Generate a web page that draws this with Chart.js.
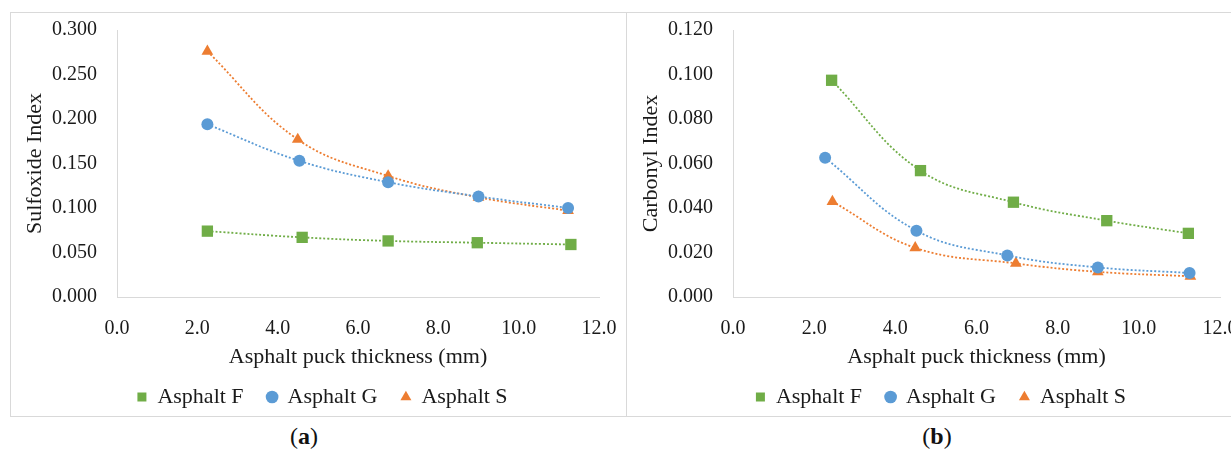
<!DOCTYPE html>
<html>
<head>
<meta charset="utf-8">
<script src="https://cdn.jsdelivr.net/npm/chart.js@4/dist/chart.umd.min.js"></script>
<style>
  html, body { margin: 0; padding: 0; background: #fff; overflow: hidden; }
  body { width: 1231px; height: 450px; position: relative; font-family: "Liberation Serif", serif; }
  .box { position: absolute; top: 12px; height: 403px; border: 1px solid #d9d9d9; }
  .box canvas { position: absolute; left: 0; top: 0; }
  #boxA { left: 10px; width: 615px; }
  #boxB { left: 626px; width: 620px; }
  .cap { position: absolute; top: 423px; font-size: 24px; color: #111; transform: translateX(-50%); }
</style>
</head>
<body>
<div class="box" id="boxA"><canvas id="chartA" width="615" height="405"></canvas></div>
<div class="box" id="boxB"><canvas id="chartB" width="620" height="405"></canvas></div>
<div class="cap" style="left:304px">(<b>a</b>)</div>
<div class="cap" style="left:937px">(<b>b</b>)</div>
<script>
// thickness (mm) for each series, panel (a)
var thickA_F = [2.25, 4.61, 6.75, 8.97, 11.30];
var thickA_G = [2.25, 4.54, 6.75, 9.00, 11.23];
var thickA_S = [2.25, 4.50, 6.75, 9.00, 11.23];
// sulfoxide index
var sulfoxide_F = [0.074, 0.067, 0.063, 0.061, 0.059];
var sulfoxide_G = [0.194, 0.153, 0.129, 0.113, 0.100];
var sulfoxide_S = [0.276, 0.177, 0.136, 0.112, 0.097];

// thickness (mm) for each series, panel (b)
var thickB_F = [2.43, 4.62, 6.91, 9.21, 11.22];
var thickB_G = [2.27, 4.52, 6.76, 8.99, 11.25];
var thickB_S = [2.45, 4.49, 6.97, 8.99, 11.27];
// carbonyl index
var carbonyl_F = [0.0974, 0.0568, 0.0426, 0.0343, 0.0286];
var carbonyl_G = [0.0626, 0.0298, 0.0187, 0.0133, 0.0108];
var carbonyl_S = [0.0429, 0.0221, 0.0151, 0.0113, 0.0093];

var seriesNames = ["Asphalt F", "Asphalt G", "Asphalt S"];
var xTicks = [0, 2, 4, 6, 8, 10, 12];

var colors = ['#70AD47', '#5B9BD5', '#ED7D31'];
var styles = ['rect', 'circle', 'triangle'];
var radii = [8, 6, 6.8];
var textColor = '#1a1a1a';
var legendGap = 24;

function toPoints(xs, ys) {
    var pts = [];
    for (var i = 0; i < xs.length; i++) pts.push({x: xs[i], y: ys[i]});
    return pts;
}

function makeChart(id, xsList, ysList, yMax, yStep, yDigits, yTitle) {
    var ctx = document.getElementById(id);
    var datasets = [];
    for (var i = 0; i < 3; i++) {
        datasets.push({
            label: seriesNames[i],
            data: toPoints(xsList[i], ysList[i]),
            showLine: true,
            tension: 0.4,
            borderColor: colors[i],
            backgroundColor: colors[i],
            borderWidth: 1.8,
            borderDash: [2, 2],
            pointStyle: styles[i],
            pointRadius: radii[i],
            pointBorderWidth: 0,
            pointBackgroundColor: colors[i]
        });
    }
    return new Chart(ctx, {
        type: 'scatter',
        data: { datasets: datasets },
        options: {
            responsive: false,
            animation: false,
            devicePixelRatio: 1,
            layout: { padding: { top: 0, right: 0, left: 8, bottom: 0 } },
            plugins: {
                tooltip: { enabled: false },
                legend: {
                    position: 'bottom',
                    labels: {
                        usePointStyle: true,
                        boxWidth: 9,
                        boxHeight: 9,
                        padding: legendGap,
                        color: textColor,
                        font: { family: 'Liberation Serif', size: 22 }
                    }
                }
            },
            scales: {
                x: {
                    type: 'linear',
                    min: 0,
                    max: 12,
                    afterBuildTicks: function (axis) {
                        axis.ticks = xTicks.map(function (v) { return {value: v}; });
                    },
                    afterFit: function (axis) {
                        axis.height = 89 - legendGap;
                        axis.paddingLeft = 0;
                        axis.paddingRight = 27;
                    },
                    grid: { display: false, drawTicks: false },
                    border: { display: true, color: '#d9d9d9', width: 1 },
                    ticks: {
                        padding: 20,
                        color: textColor,
                        font: { family: 'Liberation Serif', size: 20 },
                        callback: function (v) { return v.toFixed(1); }
                    },
                    title: {
                        display: true,
                        text: 'Asphalt puck thickness (mm)',
                        color: textColor,
                        padding: { top: 0, bottom: 16 - legendGap },
                        font: { family: 'Liberation Serif', size: 22 }
                    }
                },
                y: {
                    min: 0,
                    max: yMax,
                    afterFit: function (axis) {
                        axis.width = 98;
                        axis.paddingTop = 17;
                        axis.paddingBottom = 0;
                    },
                    grid: { display: false, drawTicks: false },
                    border: { display: true, color: '#d9d9d9', width: 1 },
                    ticks: {
                        stepSize: yStep,
                        padding: 20,
                        color: textColor,
                        font: { family: 'Liberation Serif', size: 20 },
                        callback: function (v) { return v.toFixed(yDigits); }
                    },
                    title: {
                        display: true,
                        text: yTitle,
                        color: textColor,
                        padding: { top: 3, bottom: 0 },
                        font: { family: 'Liberation Serif', size: 22 }
                    }
                }
            }
        }
    });
}

makeChart('chartA', [thickA_F, thickA_G, thickA_S], [sulfoxide_F, sulfoxide_G, sulfoxide_S],
          0.3, 0.05, 3, 'Sulfoxide Index');
makeChart('chartB', [thickB_F, thickB_G, thickB_S], [carbonyl_F, carbonyl_G, carbonyl_S],
          0.12, 0.02, 3, 'Carbonyl Index');
</script>
</body>
</html>
